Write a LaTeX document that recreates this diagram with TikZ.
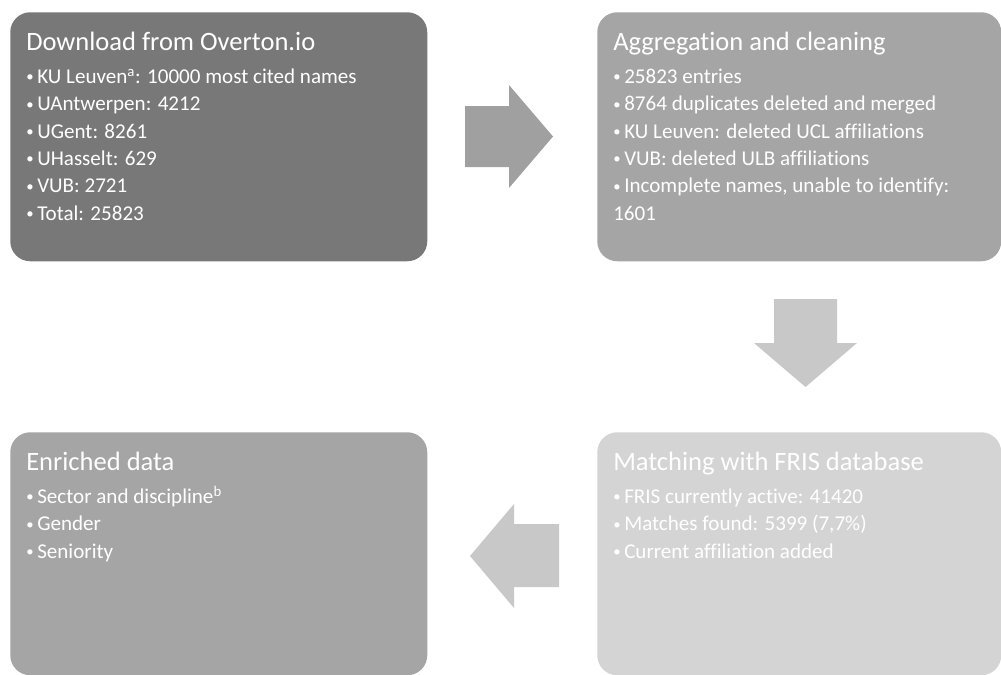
\documentclass[tikz,border=0pt]{standalone}
\usepackage{fontspec}
\setmainfont[Ligatures=NoCommon]{Carlito}
\newlength\pxu
\setlength\pxu{0.75pt}
\definecolor{boxdark}{RGB}{120,120,120}
\definecolor{boxmid}{RGB}{165,165,165}
\definecolor{boxlight}{RGB}{212,212,212}
\definecolor{arrowmid}{RGB}{160,160,160}
\definecolor{arrowlight}{RGB}{200,200,200}
\newcommand{\bul}[1]{\par\noindent\makebox[11\pxu][l]{\raisebox{1.2pt}{\scalebox{0.7}{\textbullet}}}#1}
\newcommand{\stepbody}[4]{\parbox[t][#2\pxu][t]{#1\pxu}{\raggedright
  \fontsize{19.9pt}{23pt}\selectfont\rule{0pt}{38\pxu}#3\par
  \fontsize{15.8pt}{27.4\pxu}\selectfont\vspace{5.6\pxu}#4\par}}
\tikzset{
  stepbox/.style={anchor=north west, rounded corners=15pt, inner xsep=16\pxu,
    inner ysep=0pt, text=white, font=\fontsize{15.8pt}{19pt}\selectfont}
}
\begin{document}
\begin{tikzpicture}[x=0.75pt,y=-0.75pt]
        \useasboundingbox (0,0) rectangle (1001,675);

        % Boxes
        \node[stepbox, fill=boxdark] (download) at (10,12)
            {\stepbody{385}{249}{Download from Overton.io}{%
             \bul{KU Leuven\textsuperscript{a}: 10000 most cited names}
             \bul{UAntwerpen: 4212}
             \bul{UGent: 8261}
             \bul{UHasselt: 629}
             \bul{VUB: 2721}
             \bul{Total: 25823}}};
        \node[stepbox, fill=boxmid] (clean) at (597,12)
            {\stepbody{372}{249}{Aggregation and cleaning}{%
             \bul{25823 entries}
             \bul{8764 duplicates deleted and merged}
             \bul{KU Leuven: deleted UCL affiliations}
             \bul{VUB: deleted ULB affiliations}
             \bul{Incomplete names, unable to identify:\newline 1601}}};
        \node[stepbox, fill=boxlight] (match) at (597,432)
            {\stepbody{372}{243}{Matching with FRIS database}{%
             \bul{FRIS currently active: 41420}
             \bul{Matches found: 5399 (7,7\%)}
             \bul{Current affiliation added}}};
        \node[stepbox, fill=boxmid] (enrich) at (10,432)
            {\stepbody{385}{243}{Enriched data}{%
             \bul{Sector and discipline\textsuperscript{b}}
             \bul{Gender}
             \bul{Seniority}}};

        % Arrows
        \fill[arrowmid] (465,106) -- (509,106) -- (509,85) -- (553,136.5)
            -- (509,188) -- (509,167) -- (465,167) -- cycle;
        \fill[arrowlight] (774,299) -- (837,299) -- (837,343) -- (857,343)
            -- (805.5,387) -- (754,343) -- (774,343) -- cycle;
        \fill[arrowlight] (559,524) -- (514,524) -- (514,504) -- (470,556)
            -- (514,608) -- (514,587) -- (559,587) -- cycle;
    \end{tikzpicture}
\end{document}
